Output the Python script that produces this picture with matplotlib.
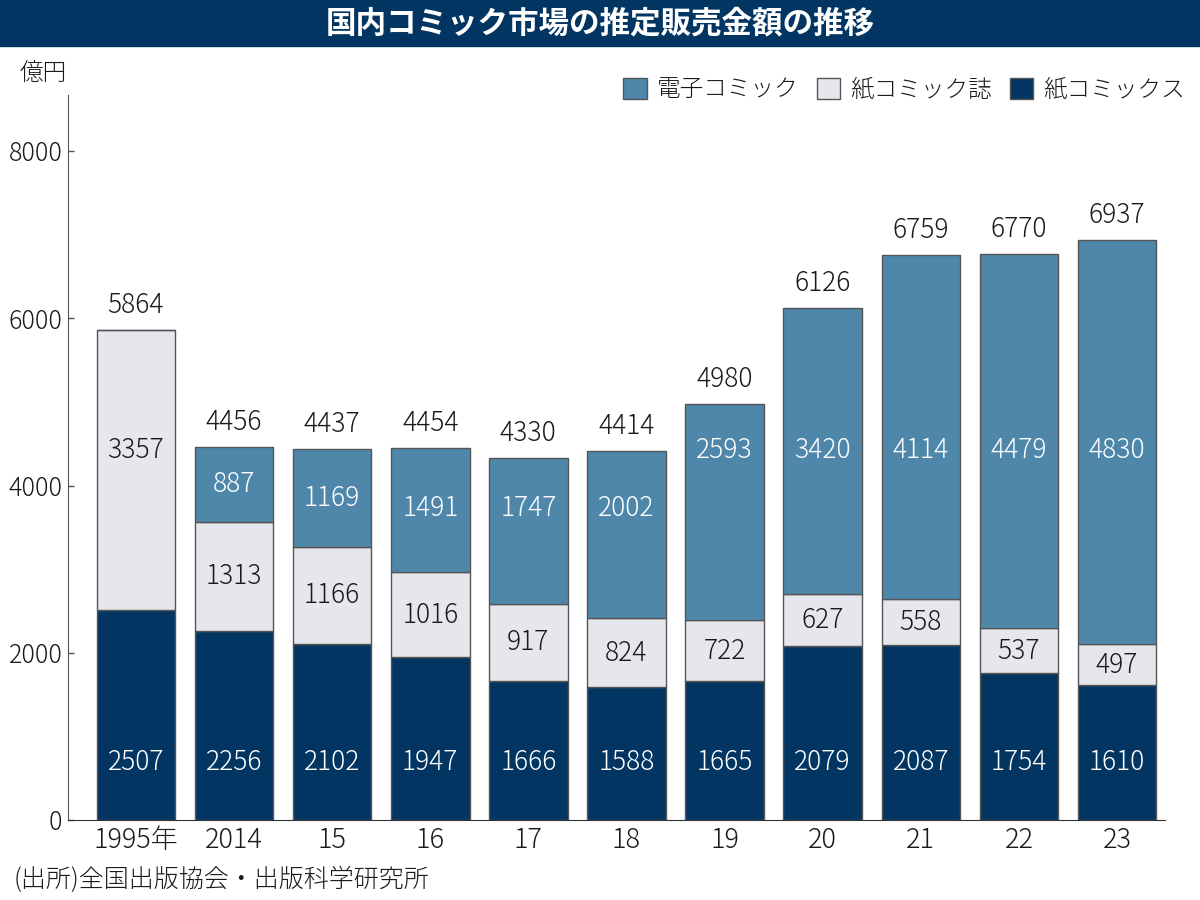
import matplotlib
matplotlib.use("Agg")
import matplotlib.pyplot as plt
from matplotlib.patches import Patch, Rectangle

plt.rcParams['font.family'] = ['Noto Sans CJK JP', 'DejaVu Sans']

years = ["1995年", "2014", "15", "16", "17", "18", "19", "20", "21", "22", "23"]
paper_comics = [2507, 2256, 2102, 1947, 1666, 1588, 1665, 2079, 2087, 1754, 1610]
paper_magazines = [3357, 1313, 1166, 1016, 917, 824, 722, 627, 558, 537, 497]
digital = [0, 887, 1169, 1491, 1747, 2002, 2593, 3420, 4114, 4479, 4830]
totals = [5864, 4456, 4437, 4454, 4330, 4414, 4980, 6126, 6759, 6770, 6937]

c_digital = "#4f87ab"
c_mag = "#e6e7ec"
c_comics = "#033563"
edge = "#555555"
txt = "#1a1a1a"
WT = 'light'

fig = plt.figure(figsize=(12, 9), dpi=100)
ax = fig.add_axes([68/1200, 80/900, (1165-68)/1200, (820-95)/900])

x = list(range(len(years)))
w = 0.8
ax.bar(x, paper_comics, w, color=c_comics, edgecolor=edge, linewidth=1)
ax.bar(x, paper_magazines, w, bottom=paper_comics, color=c_mag, edgecolor=edge, linewidth=1)
bot2 = [a + b for a, b in zip(paper_comics, paper_magazines)]
ax.bar(x, digital, w, bottom=bot2, color=c_digital, edgecolor=edge, linewidth=1)

fs = 19
for i in x:
    ax.text(i, 690, str(paper_comics[i]), ha='center', va='center', color='white',
            fontsize=fs, fontweight=WT)
    lo, hi = paper_comics[i], bot2[i]
    yc = (lo + hi) / 2
    if paper_magazines[i] > 2500:
        yc = 4430
    ax.text(i, yc, str(paper_magazines[i]), ha='center', va='center', color=txt,
            fontsize=fs, fontweight=WT)
    if digital[i] > 0:
        lo, hi = bot2[i], bot2[i] + digital[i]
        yc = (lo + hi) / 2
        if digital[i] > 2500:
            yc = 4430
        else:
            yc = max(yc, 3730)
        ax.text(i, yc, str(digital[i]), ha='center', va='center', color='white',
                fontsize=fs, fontweight=WT)
    ax.annotate(str(totals[i]), (i, totals[i]), xytext=(0, 18), textcoords='offset points',
                ha='center', va='center', color=txt, fontsize=fs, fontweight=WT)

ax.set_xlim(-0.693, 10.49)
ax.set_ylim(0, 8670)
ax.set_yticks([0, 2000, 4000, 6000, 8000])
ax.set_yticklabels(["0", "2000", "4000", "6000", "8000"], fontsize=18, fontweight=WT, color=txt)
ax.set_xticks(x)
ax.set_xticklabels(years, fontsize=19.5, color=txt, fontweight=WT)
ax.tick_params(axis='x', length=0, pad=4)
ax.tick_params(axis='y', direction='in', length=4, width=1, color='#555555', pad=4)
for s in ['top', 'right']:
    ax.spines[s].set_visible(False)
ax.spines['left'].set_color('#555555')
ax.spines['bottom'].set_color('#333333')

# title band
fig.patches.append(Rectangle((0, 1 - 46/900), 1, 46/900, transform=fig.transFigure,
                             color=c_comics, zorder=0))
fig.text(0.5, 1 - 23/900, "国内コミック市場の推定販売金額の推移", ha='center', va='center',
         color='white', fontsize=22, fontweight='bold')

fig.text(20/1200, 1 - 73/900, "億円", ha='left', va='center', fontsize=17, color=txt,
         fontweight=WT)
fig.text(14/1200, 1 - 880/900, "(出所)全国出版協会・出版科学研究所", ha='left', va='center',
         fontsize=18, color=txt, fontweight=WT)

handles = [Patch(facecolor=c_digital, edgecolor=edge, label="電子コミック"),
           Patch(facecolor=c_mag, edgecolor=edge, label="紙コミック誌"),
           Patch(facecolor=c_comics, edgecolor=edge, label="紙コミックス")]
leg = fig.legend(handles=handles, loc='center right', bbox_to_anchor=(1185/1200, 1 - 90/900),
                 ncol=3, frameon=False, prop={'size': 17, 'weight': WT},
                 handlelength=1.0, handleheight=1.0,
                 handletextpad=0.42, columnspacing=0.76, borderpad=0, borderaxespad=0)
for t in leg.get_texts():
    t.set_color(txt)

fig.savefig("out.png", dpi=100)
